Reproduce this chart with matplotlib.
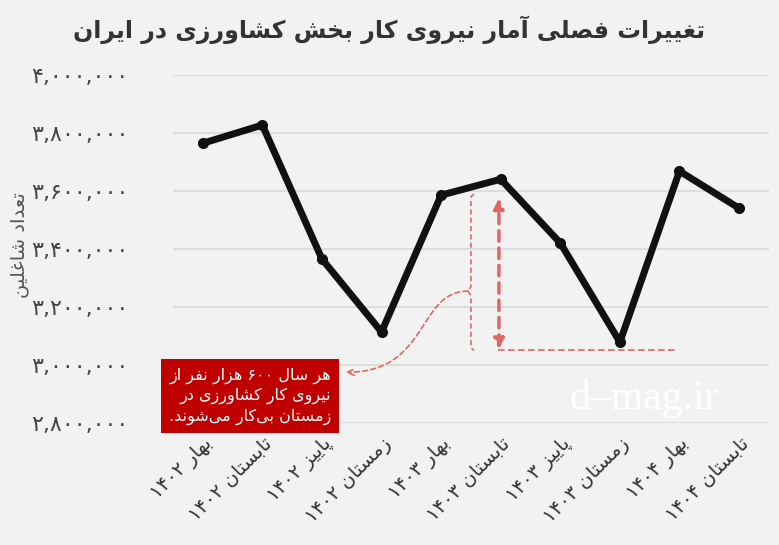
import matplotlib
matplotlib.use("Agg")
import matplotlib.pyplot as plt
from matplotlib.patches import FancyArrowPatch
from matplotlib.path import Path

try:
    import arabic_reshaper
    from bidi.algorithm import get_display

    def fa(s):
        return get_display(arabic_reshaper.reshape(s))
except ImportError:
    # minimal Persian shaper: letter -> (isolated, final, initial, medial)
    FORMS = {
        "ا": (0xFE8D, 0xFE8E, None, None), "آ": (0xFE81, 0xFE82, None, None),
        "ب": (0xFE8F, 0xFE90, 0xFE91, 0xFE92), "پ": (0xFB56, 0xFB57, 0xFB58, 0xFB59),
        "ت": (0xFE95, 0xFE96, 0xFE97, 0xFE98), "ث": (0xFE99, 0xFE9A, 0xFE9B, 0xFE9C),
        "ج": (0xFE9D, 0xFE9E, 0xFE9F, 0xFEA0), "چ": (0xFB7A, 0xFB7B, 0xFB7C, 0xFB7D),
        "ح": (0xFEA1, 0xFEA2, 0xFEA3, 0xFEA4), "خ": (0xFEA5, 0xFEA6, 0xFEA7, 0xFEA8),
        "د": (0xFEA9, 0xFEAA, None, None), "ذ": (0xFEAB, 0xFEAC, None, None),
        "ر": (0xFEAD, 0xFEAE, None, None), "ز": (0xFEAF, 0xFEB0, None, None),
        "ژ": (0xFB8A, 0xFB8B, None, None),
        "س": (0xFEB1, 0xFEB2, 0xFEB3, 0xFEB4), "ش": (0xFEB5, 0xFEB6, 0xFEB7, 0xFEB8),
        "ص": (0xFEB9, 0xFEBA, 0xFEBB, 0xFEBC), "ض": (0xFEBD, 0xFEBE, 0xFEBF, 0xFEC0),
        "ط": (0xFEC1, 0xFEC2, 0xFEC3, 0xFEC4), "ظ": (0xFEC5, 0xFEC6, 0xFEC7, 0xFEC8),
        "ع": (0xFEC9, 0xFECA, 0xFECB, 0xFECC), "غ": (0xFECD, 0xFECE, 0xFECF, 0xFED0),
        "ف": (0xFED1, 0xFED2, 0xFED3, 0xFED4), "ق": (0xFED5, 0xFED6, 0xFED7, 0xFED8),
        "ک": (0xFB8E, 0xFB8F, 0xFB90, 0xFB91), "گ": (0xFB92, 0xFB93, 0xFB94, 0xFB95),
        "ل": (0xFEDD, 0xFEDE, 0xFEDF, 0xFEE0), "م": (0xFEE1, 0xFEE2, 0xFEE3, 0xFEE4),
        "ن": (0xFEE5, 0xFEE6, 0xFEE7, 0xFEE8), "و": (0xFEED, 0xFEEE, None, None),
        "ه": (0xFEE9, 0xFEEA, 0xFEEB, 0xFEEC), "ی": (0xFBFC, 0xFBFD, 0xFBFE, 0xFBFF),
    }

    def joins_left(c):
        return c in FORMS and FORMS[c][2] is not None

    def fa(s):
        out = []
        for i, c in enumerate(s):
            if c not in FORMS:
                if c != "\u200c":
                    out.append(c)
                continue
            prev = s[i - 1] if i > 0 else ""
            nxt = s[i + 1] if i + 1 < len(s) else ""
            a = joins_left(prev)
            b = joins_left(c) and nxt in FORMS
            iso, fin, ini, med = FORMS[c]
            if a and b:
                out.append(chr(med))
            elif a:
                out.append(chr(fin))
            elif b:
                out.append(chr(ini))
            else:
                out.append(chr(iso))
        # visual order: reverse, keep digit runs left-to-right
        runs, cur = [], ""
        for c in out:
            isd = c.isdigit() or c == ","
            if cur and (cur[-1].isdigit() or cur[-1] == ",") == isd:
                cur += c
            else:
                if cur:
                    runs.append(cur)
                cur = c
        if cur:
            runs.append(cur)
        res = []
        for r in reversed(runs):
            res.append(r if (r[0].isdigit()) else r[::-1])
        return "".join(res)

plt.rcParams["font.family"] = ["DejaVu Sans"]

# data
seasons = ["بهار ۱۴۰۲", "تابستان ۱۴۰۲", "پاییز ۱۴۰۲", "زمستان ۱۴۰۲",
           "بهار ۱۴۰۳", "تابستان ۱۴۰۳", "پاییز ۱۴۰۳", "زمستان ۱۴۰۳",
           "بهار ۱۴۰۴", "تابستان ۱۴۰۴"]
employed = [3765000, 3828000, 3366000, 3114000, 3586000,
            3641000, 3421000, 3079000, 3669000, 3541000]
yticks = [2800000, 3000000, 3200000, 3400000, 3600000, 3800000, 4000000]
ytick_labels = ["۲,۸۰۰,۰۰۰", "۳,۰۰۰,۰۰۰", "۳,۲۰۰,۰۰۰", "۳,۴۰۰,۰۰۰",
                "۳,۶۰۰,۰۰۰", "۳,۸۰۰,۰۰۰", "۴,۰۰۰,۰۰۰"]

bg = "#f2f2f2"
red = "#e06666"
fig = plt.figure(figsize=(7.79, 5.45), dpi=100, facecolor=bg)
ax = fig.add_axes([0.222, 0.224, 0.765, 0.638], facecolor=bg)

x = list(range(len(employed)))
ax.plot(x, employed, color="#111111", lw=5, marker="o", ms=7, solid_joinstyle="round")

ax.set_xlim(-0.5, 9.5)
ax.set_ylim(2800000, 4000000)
ax.set_yticks(yticks)
ax.set_yticklabels(ytick_labels, fontsize=16, color="#444444")
ax.set_xticks(x)
ax.set_xticklabels([fa(s) for s in seasons], rotation=45, ha="right",
                   va="top", rotation_mode="anchor", fontsize=14, color="#333333")
ax.tick_params(length=0, axis="y", pad=32)
ax.tick_params(length=0, axis="x", pad=8)
ax.grid(axis="y", color="#d9d9d9", lw=1.2)
ax.set_axisbelow(True)
for s in ax.spines.values():
    s.set_visible(False)

fig.text(0.025, 0.55, fa("تعداد شاغلین"), rotation=90, ha="center", va="center",
         fontsize=14, color="#555555")
fig.text(0.5, 0.945, fa("تغییرات فصلی آمار نیروی کار بخش کشاورزی در ایران"),
         ha="center", va="center", fontsize=17, fontweight="bold", color="#333333")

# watermark
ax.text(7.4, 2885000, "d\u2013mag.ir", fontsize=30, color="white",
        family="Liberation Serif", ha="center", va="center", zorder=0)

# annotation
ax.annotate("", xy=(4.97, 3585000), xytext=(4.97, 3045000),
            arrowprops=dict(arrowstyle="<|-|>", color=red, lw=2.5, ls=(0, (3, 2)),
                            mutation_scale=15))
ax.plot([4.95, 7.95], [3050000, 3050000], color=red, lw=1.2, ls=(0, (4, 2)))
ax.plot([4.55, 4.5, 4.5, 4.45], [3590000, 3580000, 3270000, 3255000],
        color=red, lw=1.2, ls=(0, (3, 2)))
ax.plot([4.45, 4.5, 4.5, 4.55], [3255000, 3240000, 3060000, 3050000],
        color=red, lw=1.2, ls=(0, (3, 2)))
curve = Path([(4.45, 3255000), (3.6, 3255000), (3.8, 2975000), (2.4, 2975000)],
             [Path.MOVETO, Path.CURVE4, Path.CURVE4, Path.CURVE4])
ax.add_patch(FancyArrowPatch(path=curve, arrowstyle="->", color=red, lw=1.2,
                             ls=(0, (3, 2)), mutation_scale=12))

box_lines = ["هر سال ۶۰۰ هزار نفر از", "نیروی کار کشاورزی در", "زمستان بی‌کار می‌شوند."]
fig.text(0.425, 0.273, "\n".join(fa(l) for l in box_lines), ha="right", va="center",
         fontsize=11.5, color="white", linespacing=1.35,
         bbox=dict(boxstyle="square,pad=0.5", fc="#c00000", ec="none"))

fig.savefig("out.png", dpi=100, facecolor=bg)
